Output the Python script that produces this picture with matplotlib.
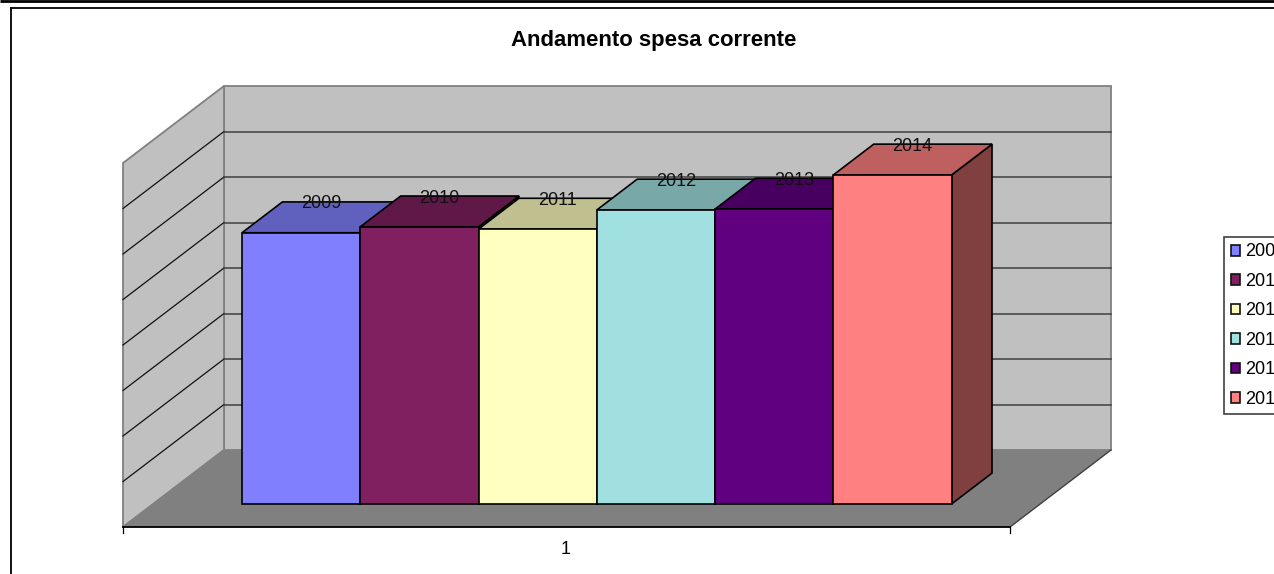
import matplotlib
matplotlib.use("Agg")
import matplotlib.pyplot as plt
from matplotlib.patches import Patch, Polygon
from matplotlib.lines import Line2D
from matplotlib.colors import to_rgb

plt.rcParams['font.family'] = ['Liberation Sans', 'DejaVu Sans']

TITLE = "Andamento spesa corrente"
CATEGORY = "1"
years = ["2009", "2010", "2011", "2012", "2013", "2014"]
values = [5.96, 6.09, 6.04, 6.46, 6.48, 7.23]
colors = ["#8080FF", "#802060", "#FFFFC0", "#A0E0E0", "#600080", "#FF8080"]
grid_levels = [1, 2, 3, 4, 5, 6, 7]

W, H = 1274, 574
UX, UV = 118.27, 45.5       # pixels per bar width, pixels per value unit
X0, Y0 = 123, 527           # pixel position of the front floor origin
DX, DV = 101 / UX, 77 / UV  # oblique offset of the full depth
NX = 7.5
VMAX = 8

fig = plt.figure(figsize=(W / 100, H / 100), dpi=100, facecolor="white")
ax = fig.add_axes([0, 0, 1, 1])
ax.set_xlim(-X0 / UX, (W - X0) / UX)
ax.set_ylim(-(H - Y0) / UV, Y0 / UV)
ax.axis("off")


def proj(x, v, d):
    return (x + d * DX, v + d * DV)


def face(points, **kw):
    ax.add_patch(Polygon([proj(*p) for p in points], closed=True, **kw))


# walls and floor
WALL = "#C0C0C0"
EDGE = "#808080"
face([(0, 0, 1), (NX, 0, 1), (NX, VMAX, 1), (0, VMAX, 1)], fc=WALL, ec=EDGE, lw=1.3, zorder=1)
face([(0, 0, 0), (0, 0, 1), (0, VMAX, 1), (0, VMAX, 0)], fc=WALL, ec=EDGE, lw=1.3, zorder=1)
face([(0, 0, 0), (NX, 0, 0), (NX, 0, 1), (0, 0, 1)], fc="#808080", ec="none", zorder=1.5)

# gridlines
for lv in grid_levels:
    a, b = proj(0, lv, 0), proj(0, lv, 1)
    ax.plot([a[0], b[0]], [a[1], b[1]], color="#101010", lw=0.9, zorder=2)
    c = proj(NX, lv, 1)
    ax.plot([b[0], c[0]], [b[1], c[1]], color="#404040", lw=1.1, zorder=2)
a, b = proj(0, 0, 0), proj(0, 0, 1)
ax.plot([a[0], b[0]], [a[1], b[1]], color=EDGE, lw=1.2, zorder=2)
a, b = proj(NX, 0, 0), proj(NX, 0, 1)
ax.plot([a[0], b[0]], [a[1], b[1]], color="#404040", lw=1.0, zorder=2)
ax.plot([0, NX], [0, 0], color="black", lw=1.3, zorder=2)
tick = 6 / UV
for xt in (0, NX):
    ax.plot([xt, xt], [0, -tick], color="black", lw=0.9, zorder=2)
ax.text((566 - X0) / UX, -23 / UV, CATEGORY, ha="center", va="center", fontsize=13, color="black")

# bars
D0, D1 = 0.3, 0.7
GAP = 0.75
base_x, base_v = proj(GAP, 0, D0)
for i, (val, col) in enumerate(zip(values, colors)):
    z = 3 + i
    rgb = to_rgb(col)
    top = tuple(c * 0.75 for c in rgb)
    side = tuple(c * 0.5 for c in rgb)
    x0, x1 = GAP + i, GAP + i + 1
    b0 = base_v - D0 * DV
    ax.bar(base_x + i, val, width=1, bottom=base_v, align="edge", color=col,
           edgecolor="black", linewidth=1.2, zorder=z + 0.2)
    face([(x1, b0, D0), (x1, b0, D1), (x1, b0 + val, D1), (x1, b0 + val, D0)],
         fc=side, ec="black", lw=1.2, zorder=z)
    face([(x0, b0 + val, D0), (x1, b0 + val, D0), (x1, b0 + val, D1), (x0, b0 + val, D1)],
         fc=top, ec="black", lw=1.2, zorder=z + 0.1)

for i, (val, yr) in enumerate(zip(values, years)):
    px = base_x + i + 0.5 + 20 / UX
    pv = proj(0, base_v - D0 * DV + val, D1)[1] - 2 / UV
    ax.text(px, pv, yr, ha="center", va="center", fontsize=13, color="#111111", zorder=20)

ax.text((653.5 - X0) / UX, (Y0 - 40.5) / UV, TITLE, ha="center", va="center",
        fontsize=15.9, fontweight="bold", color="black")

# legend
handles = [Patch(facecolor=c, edgecolor="#111111", linewidth=1.2, label=y) for c, y in zip(colors, years)]
leg = ax.legend(handles=handles, loc="upper left",
                bbox_to_anchor=(1224 / W, 1 - 237 / H), bbox_transform=fig.transFigure,
                fontsize=13, frameon=True, fancybox=False, framealpha=1,
                edgecolor="#404040", borderaxespad=0, borderpad=0.36,
                handlelength=0.55, handleheight=0.55, handletextpad=0.28,
                labelspacing=0.69)
leg.get_frame().set_linewidth(1.2)
leg.set_zorder(20)

# outer frame
for (xa, ya, xb, yb, lw) in [(0, 1, W, 1, 2.0), (10, 8, W, 8, 1.3), (11, 7, 11, H, 1.3)]:
    fig.add_artist(Line2D([xa / W, xb / W], [1 - ya / H, 1 - yb / H], color="black", lw=lw,
                          transform=fig.transFigure, solid_capstyle="butt"))

fig.savefig("out.png", dpi=100, facecolor="white")
